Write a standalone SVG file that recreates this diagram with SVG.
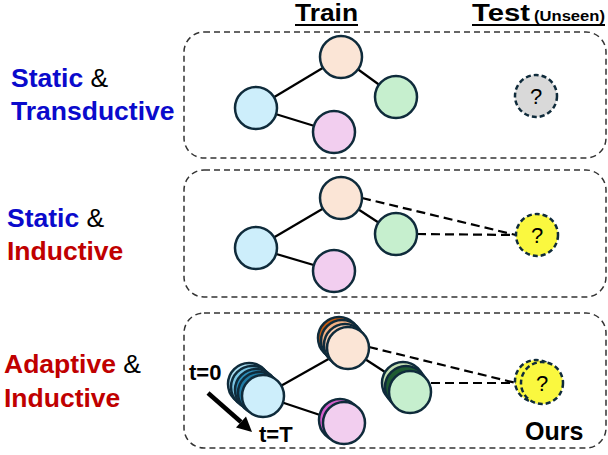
<svg xmlns="http://www.w3.org/2000/svg" width="608" height="455" viewBox="0 0 608 455">
<defs>
<style>
.box{fill:none;stroke:#333;stroke-width:1.5;stroke-dasharray:6 4}
.n{stroke:#0F2B3B;stroke-width:2.5}
.q{stroke:#0F2B3B;stroke-width:2.5;stroke-dasharray:5 3}
.e{stroke:#000;stroke-width:2.2;fill:none}
.d{stroke:#000;stroke-width:2.2;fill:none;stroke-dasharray:9 5}
.lbl{font-family:"Liberation Sans",Arial,sans-serif;font-weight:bold;font-size:26.5px}
.amp{font-weight:normal;fill:#000}
.blue{fill:#0A0ACC}
.red{fill:#C00000}
.qt{font-family:"Liberation Sans",Arial,sans-serif;font-size:22px;text-anchor:middle;fill:#000}
.b{font-family:"Liberation Sans",Arial,sans-serif;font-weight:bold;fill:#000}
</style>
</defs>
<rect width="608" height="455" fill="#fff"/>

<g id="titles">
<text class="b" x="295" y="21" font-size="23" textLength="63" lengthAdjust="spacingAndGlyphs">Train</text>
<line x1="295" y1="25" x2="358" y2="25" stroke="#000" stroke-width="2"/>
<text class="b" x="472" y="21" font-size="23" textLength="58" lengthAdjust="spacingAndGlyphs">Test</text>
<text class="b" x="534" y="21" font-size="14" textLength="71" lengthAdjust="spacingAndGlyphs">(Unseen)</text>
<line x1="472" y1="25" x2="605" y2="25" stroke="#000" stroke-width="2"/>
</g>

<g id="labels">
<text class="lbl" x="11" y="87"><tspan class="blue">Static</tspan><tspan class="amp"> &amp;</tspan></text>
<text class="lbl blue" x="11" y="120">Transductive</text>
<text class="lbl" x="7" y="227"><tspan class="blue">Static</tspan><tspan class="amp"> &amp;</tspan></text>
<text class="lbl red" x="7" y="260">Inductive</text>
<text class="lbl" x="4" y="373"><tspan class="red">Adaptive</tspan><tspan class="amp"> &amp;</tspan></text>
<text class="lbl red" x="4" y="407">Inductive</text>
</g>

<g id="panels">
<rect class="box" x="184" y="32" width="422" height="126" rx="20"/>
<rect class="box" x="184" y="170" width="422" height="127" rx="20"/>
<rect class="box" x="184" y="313" width="422" height="135" rx="20"/>
</g>

<g id="connectors">
<line class="e" x1="256" y1="108" x2="341" y2="57"/>
<line class="e" x1="341" y1="57" x2="396" y2="97"/>
<line class="e" x1="256" y1="108" x2="334" y2="132"/>
<line class="e" x1="256" y1="248" x2="341" y2="198"/>
<line class="e" x1="341" y1="198" x2="396" y2="234"/>
<line class="e" x1="256" y1="248" x2="334" y2="271"/>
<line class="d" x1="362" y1="198" x2="516" y2="235"/>
<line class="d" x1="417" y1="234" x2="516" y2="235"/>
<line class="e" x1="263" y1="396" x2="348" y2="348"/>
<line class="e" x1="348" y1="348" x2="405" y2="385"/>
<line class="e" x1="263" y1="396" x2="344" y2="423"/>
<line class="d" x1="369" y1="347" x2="516" y2="383"/>
<line class="d" x1="431" y1="383" x2="516" y2="383"/>
<line stroke="#000" stroke-width="4.5" x1="208" y1="393" x2="241" y2="422"/>
<path d="M252,432 L246,416.5 L236,427.5 Z" fill="#000"/>
</g>

<g id="p1-peach"><circle class="n" cx="341" cy="57" r="21" fill="#FBE5D6"/></g>
<g id="p1-green"><circle class="n" cx="396" cy="97" r="21" fill="#C6EFCE"/></g>
<g id="p1-blue"><circle class="n" cx="256" cy="108" r="21" fill="#CDEEFB"/></g>
<g id="p1-pink"><circle class="n" cx="334" cy="132" r="21" fill="#F2CEEF"/></g>
<g id="p1-test"><circle class="q" cx="536" cy="96" r="21" fill="#D9D9D9"/><text class="qt" x="536" y="104">?</text></g>

<g id="p2-peach"><circle class="n" cx="341" cy="198" r="21" fill="#FBE5D6"/></g>
<g id="p2-green"><circle class="n" cx="396" cy="234" r="21" fill="#C6EFCE"/></g>
<g id="p2-blue"><circle class="n" cx="256" cy="248" r="21" fill="#CDEEFB"/></g>
<g id="p2-pink"><circle class="n" cx="334" cy="271" r="21" fill="#F2CEEF"/></g>
<g id="p2-test"><circle class="q" cx="537" cy="235" r="21" fill="#FAF83F"/><text class="qt" x="537" y="243">?</text></g>

<g id="p3-peach">
<circle class="n" cx="339" cy="338" r="21" fill="#C55A11"/>
<circle class="n" cx="342" cy="341" r="21" fill="#F4B183"/>
<circle class="n" cx="345" cy="345" r="21" fill="#F8CBAD"/>
<circle class="n" cx="348" cy="348" r="21" fill="#FBE5D6"/>
</g>
<g id="p3-green">
<circle class="n" cx="403" cy="383" r="21" fill="#C5E0B4"/>
<circle class="n" cx="406" cy="387" r="21" fill="#1E5C32"/>
<circle class="n" cx="410" cy="392" r="21" fill="#C6EFCE"/>
</g>
<g id="p3-blue">
<circle class="n" cx="249" cy="384" r="21" fill="#A9DDF0"/>
<circle class="n" cx="252" cy="387" r="21" fill="#7CC6E4"/>
<circle class="n" cx="256" cy="390" r="21" fill="#2E8DB8"/>
<circle class="n" cx="259" cy="393" r="21" fill="#1F7AA3"/>
<circle class="n" cx="263" cy="396" r="21" fill="#CDEEFB"/>
</g>
<g id="p3-pink">
<circle class="n" cx="340" cy="420" r="21" fill="#D55FCB"/>
<circle class="n" cx="344" cy="423" r="21" fill="#F2CEEF"/>
</g>
<g id="p3-test">
<circle class="q" cx="536" cy="381" r="21" fill="#FAF83F"/>
<circle class="q" cx="542" cy="383" r="21" fill="#FAF83F"/>
<text class="qt" x="542" y="391">?</text>
</g>

<g id="p3-text">
<text class="b" x="189" y="380" font-size="22">t=0</text>
<text class="b" x="259" y="442" font-size="22">t=T</text>
<text class="b" x="525" y="440" font-size="25">Ours</text>
</g>
</svg>
